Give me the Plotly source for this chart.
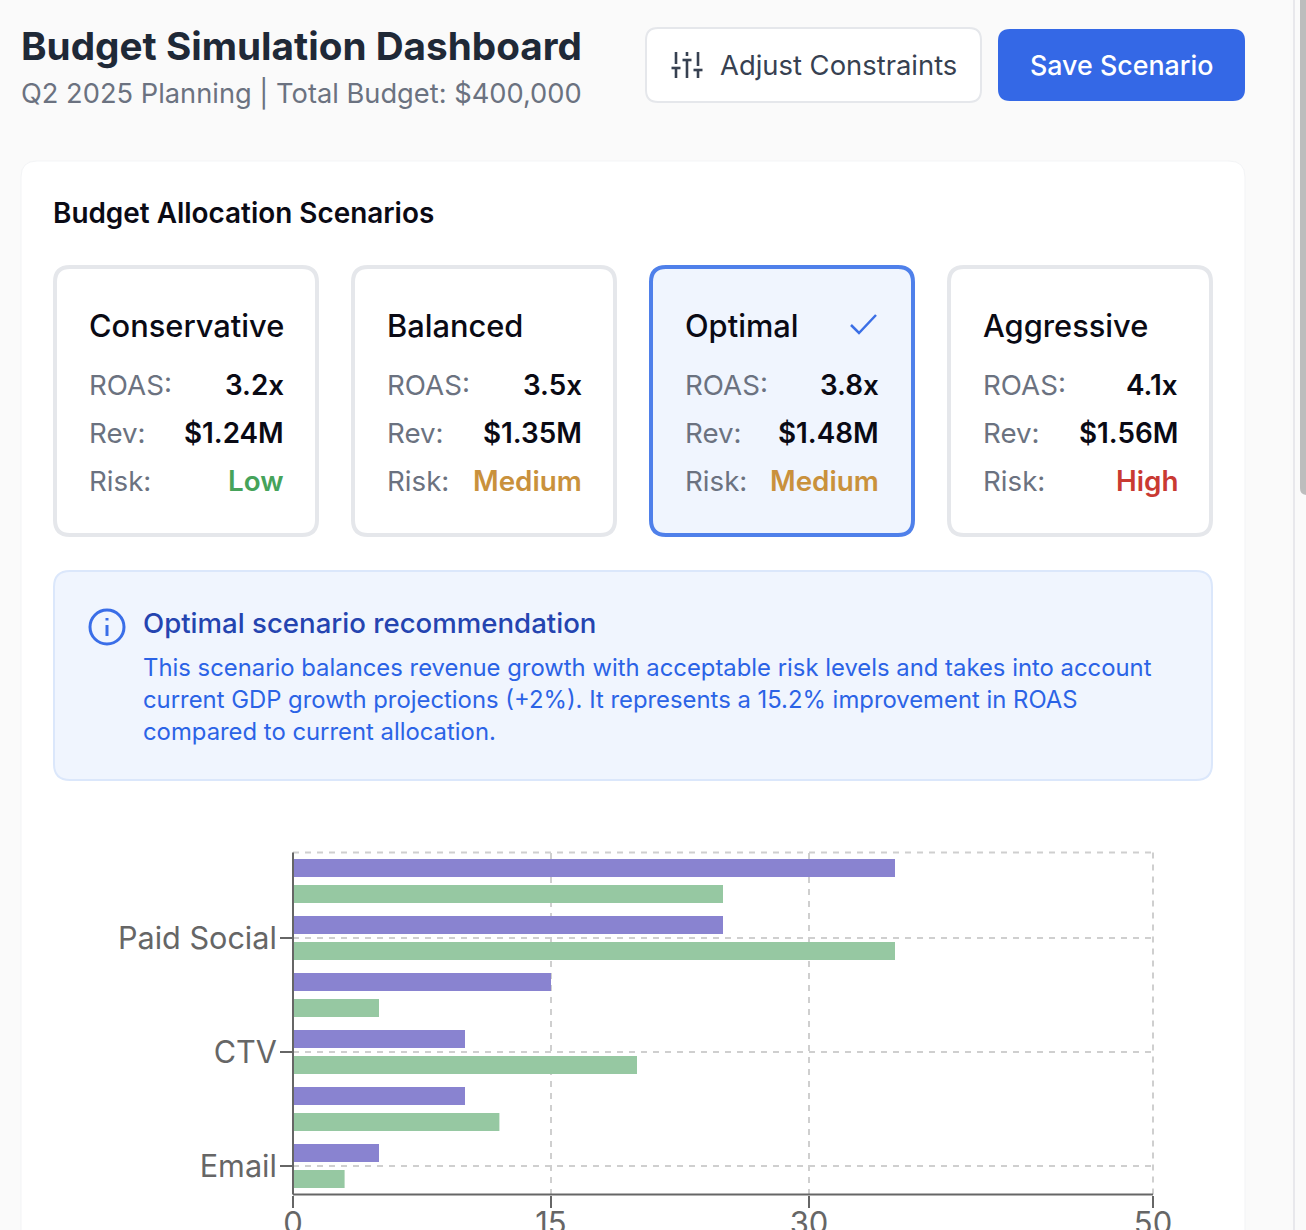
# Budget simulation dashboard, drawn as one plotly figure
import plotly.graph_objs as go

W = 1306
H = 1230

# Bar chart data
channels = ['Paid Search', 'Paid Social', 'Display', 'CTV', 'Affiliate', 'Email']
current_budget = [35, 25, 15, 10, 10, 5]
optimal_budget = [25, 35, 5, 20, 12, 3]
shown_channels = ['Paid Social', 'CTV', 'Email']
x_ticks = [0, 15, 30, 50]

# Scenario cards
scenario_names = ['Conservative', 'Balanced', 'Optimal', 'Aggressive']
scenario_roas = ['3.2x', '3.5x', '3.8x', '4.1x']
scenario_rev = ['$1.24M', '$1.35M', '$1.48M', '$1.56M']
scenario_risk = ['Low', 'Medium', 'Medium', 'High']
risk_colors = {'Low': '#46A35A', 'Medium': '#C9913C', 'High': '#C93A32'}

info_lines = [
    'This scenario balances revenue growth with acceptable risk levels and takes into account',
    'current GDP growth projections (+2%). It represents a 15.2% improvement in ROAS',
    'compared to current allocation.',
]

FONT = 'Inter'
GRID = '#CFCFCF'
AXIS = '#666666'


def fx(x):
    return x / W


def fy(y):
    return 1 - y / H


def rounded(x0, y0, x1, y1, r):
    # rounded rect path in paper coords, input is in page pixels
    pts = [
        ('M', x0 + r, y0), ('L', x1 - r, y0), ('Q', x1, y0, x1, y0 + r),
        ('L', x1, y1 - r), ('Q', x1, y1, x1 - r, y1), ('L', x0 + r, y1),
        ('Q', x0, y1, x0, y1 - r), ('L', x0, y0 + r), ('Q', x0, y0, x0 + r, y0),
    ]
    out = ''
    for p in pts:
        out += p[0]
        vals = p[1:]
        coords = [f'{fx(vals[i]):.5f},{fy(vals[i + 1]):.5f}' for i in range(0, len(vals), 2)]
        out += ' '.join(coords) + ' '
    return out + 'Z'


def box(x0, y0, x1, y1, r, fill, line=None, lw=0):
    return dict(type='path', path=rounded(x0, y0, x1, y1, r), xref='paper', yref='paper',
                fillcolor=fill, line=dict(color=line or fill, width=lw), layer='below')


def stroke(points, color, lw):
    path = 'M' + ' L'.join(f'{fx(a):.5f},{fy(b):.5f}' for a, b in points)
    return dict(type='path', path=path, xref='paper', yref='paper',
                line=dict(color=color, width=lw), layer='above')


def label(text, x, y, size, color, weight=400, anchor='left'):
    return dict(text=text, x=fx(x), y=fy(y), xref='paper', yref='paper', xanchor=anchor,
                yanchor='middle', showarrow=False, align=anchor,
                font=dict(family=FONT, size=size, color=color, weight=weight),
                borderpad=0, borderwidth=0)


def edge(x0, x1, y0, y1, color, width, dash=None, layer='above'):
    # line along the plot area, in axis domain fractions
    return dict(type='line', xref='x domain', yref='y domain', x0=x0, x1=x1, y0=y0, y1=y1,
                line=dict(color=color, width=width, dash=dash), layer=layer)


fig = go.Figure()

fig.add_trace(go.Bar(y=channels, x=current_budget, orientation='h', name='Current',
                     marker=dict(color='#8983D0', line_width=0)))
fig.add_trace(go.Bar(y=channels, x=optimal_budget, orientation='h', name='Optimal',
                     marker=dict(color='#96C8A2', line_width=0)))

shapes = []
annotations = []

# page chrome
shapes.append(dict(type='rect', x0=fx(1293), x1=fx(1295), y0=0, y1=1, xref='paper', yref='paper',
                   fillcolor='#E8E8EC', line_width=0, layer='below'))
shapes.append(box(1300, -20, 1316, 495, 7, '#BDBDBD'))

# header
annotations.append(label('Budget Simulation Dashboard', 21, 46, 38.7, '#1F2937', 700))
annotations.append(label('Q2 2025 Planning | Total Budget: $400,000', 21, 94, 27.25, '#6B7280'))
shapes.append(box(646, 28, 981, 102, 12, '#FFFFFF', '#E5E7EB', 2))
annotations.append(label('Adjust Constraints', 720, 65, 27.4, '#374151'))
shapes.append(box(998, 29, 1245, 101, 12, '#3468E6'))
annotations.append(label('Save Scenario', 1121.5, 65, 26.8, '#FFFFFF', 500, 'center'))

# sliders icon: line x, end of upper part, bar y, half bar
ICON = '#374151'
for ix, upper, bar_y in zip([676, 687, 698], [64, 56, 66], [68, 60, 70]):
    shapes.append(stroke([(ix, 52), (ix, upper)], ICON, 2.6))
    shapes.append(stroke([(ix, bar_y), (ix, 78)], ICON, 2.6))
    shapes.append(stroke([(ix - 4.5, bar_y), (ix + 4.5, bar_y)], ICON, 2.6))

# main panel
shapes.append(box(21, 161, 1245, 1300, 16, '#FFFFFF', '#F3F4F6', 1))
annotations.append(label('Budget Allocation Scenarios', 53, 213, 27.9, '#0A0A14', 600))

# scenario cards
for i, name in enumerate(scenario_names):
    left = 53 + i * 298
    picked = name == 'Optimal'
    shapes.append(box(left + 2, 267, left + 264, 535, 15, '#F0F5FE' if picked else '#FFFFFF',
                      '#4F80EA' if picked else '#E5E7EB', 4))
    annotations.append(label(name, left + 36, 326, 30.8, '#0A0A14', 500))
    rows = [('ROAS:', scenario_roas[i], '#0A0A14'), ('Rev:', scenario_rev[i], '#0A0A14'),
            ('Risk:', scenario_risk[i], risk_colors[scenario_risk[i]])]
    for j, (key, value, color) in enumerate(rows):
        annotations.append(label(key, left + 36, 385 + j * 48, 27.7, '#6B7280'))
        annotations.append(label(value, left + 230.5, 385 + j * 48, 27.8, color, 600, 'right'))

shapes.append(stroke([(851, 325), (859, 333), (876, 315)], '#3B6FE6', 2.5))

# recommendation box
shapes.append(box(54, 571, 1212, 780, 16, '#F0F5FE', '#DBE7FB', 2))
shapes.append(dict(type='circle', x0=fx(90), x1=fx(124), y0=fy(644), y1=fy(610), xref='paper',
                   yref='paper', line=dict(color='#3A6EE8', width=3), layer='above'))
shapes.append(stroke([(107, 625), (107, 636)], '#3A6EE8', 3))
shapes.append(stroke([(107, 618), (107, 620.5)], '#3A6EE8', 3))
annotations.append(label('Optimal scenario recommendation', 143, 623, 27.6, '#2444B0', 500))
for k, line in enumerate(info_lines):
    annotations.append(label(line, 143, 667.5 + k * 32, 23.85, '#2B63E6'))

# plotly skips grid lines at the range ends, so the top and right edges are drawn here
shapes.append(edge(0, 1, 1, 1, GRID, 2, '6px,6px', 'below'))
shapes.append(edge(1, 1, 0, 1, GRID, 2, '6px,6px', 'below'))
# axis lines, centred on the zero and on the bottom of the plot area
shapes.append(edge(0, 0, 0, 1, AXIS, 2))
shapes.append(edge(0, 1, 0, 0, AXIS, 2))

fig.update_layout(
    width=W, height=H, autosize=False,
    margin=dict(l=0, r=0, t=0, b=0, autoexpand=False),
    paper_bgcolor='#FAFAFA', plot_bgcolor='rgba(0,0,0,0)',
    barmode='group', bargap=0.091, bargroupgap=0.30,
    showlegend=False,
    font=dict(family=FONT),
    shapes=shapes, annotations=annotations,
)

fig.update_xaxes(
    domain=[fx(293), fx(1153)], range=[0, 50], tickmode='array', tickvals=x_ticks,
    showgrid=True, gridcolor=GRID, gridwidth=2, griddash='6px,6px', zeroline=False,
    showline=False,
    ticks='outside', ticklen=12, tickwidth=2, tickcolor=AXIS, ticklabelstandoff=-11,
    tickfont=dict(family=FONT, size=31, color=AXIS),
)
fig.update_yaxes(
    domain=[fy(1194.5), fy(852.5)], type='category', categoryorder='array', categoryarray=channels,
    autorange=False, range=[5.5, -0.5], tickmode='array', tickvals=shown_channels,
    showgrid=True, gridcolor=GRID, gridwidth=2, griddash='6px,6px', zeroline=False,
    showline=False,
    ticks='outside', ticklen=12, tickwidth=2, tickcolor=AXIS, ticklabelstandoff=-3,
    tickfont=dict(family=FONT, size=30.6, color=AXIS),
)

fig.write_html('out.html', config={'displayModeBar': False},
               post_script="document.body.style.margin='0';document.documentElement.style.overflow='hidden';")
